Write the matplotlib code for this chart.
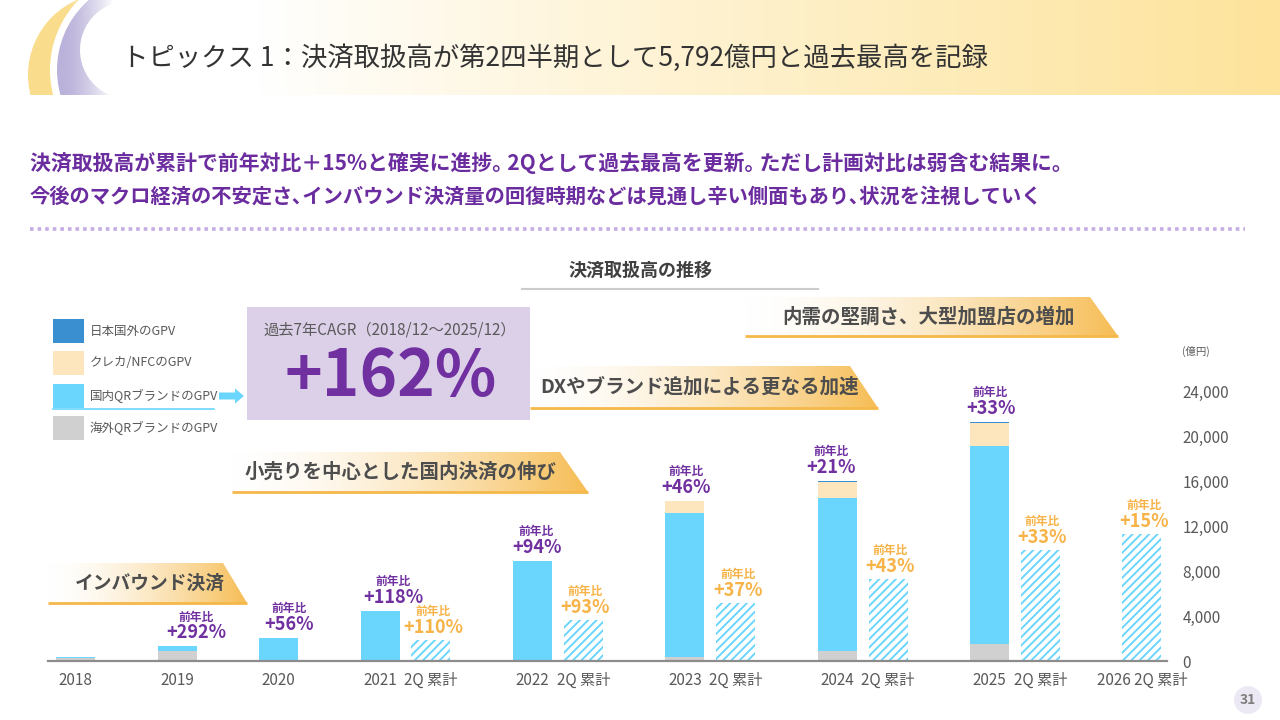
import matplotlib
matplotlib.use('Agg')
import matplotlib.pyplot as plt
import numpy as np
from matplotlib.patches import Rectangle, Circle, Polygon, FancyArrow
from matplotlib.colors import to_rgb

plt.rcParams['font.family'] = ['Noto Sans CJK JP', 'DejaVu Sans']
plt.rcParams['hatch.linewidth'] = 1.4

# ---------------- data (億円) ----------------
years = ['2018', '2019', '2020', '2021', '2022', '2023', '2024', '2025']
overseas_qr = [280, 890, 100, 0, 0, 330, 920, 1540]          # 海外QRブランドのGPV
domestic_qr = [50, 400, 1950, 4480, 8900, 12800, 13600, 17540]  # 国内QRブランドのGPV
card_nfc = [0, 0, 0, 0, 0, 1100, 1390, 2100]                # クレカ/NFCのGPV
overseas_gpv = [0, 0, 0, 0, 0, 0, 60, 90]                   # 日本国外のGPV
annual_yoy = ['', '+292%', '+56%', '+118%', '+94%', '+46%', '+21%', '+33%']

h1_years = ['2021', '2022', '2023', '2024', '2025', '2026']
h1_total = [1840, 3650, 5130, 7320, 9840, 11260]           # 2Q 累計
h1_yoy = ['+110%', '+93%', '+37%', '+43%', '+33%', '+15%']

y_ticks = [0, 4000, 8000, 12000, 16000, 20000, 24000]
legend_labels = ['日本国外のGPV', 'クレカ/NFCのGPV', '国内QRブランドのGPV', '海外QRブランドのGPV']

# ---------------- styles ----------------
C_OVER = '#3A8FD0'
C_CARD = '#FDE5BE'
C_DQR = '#6BD6FD'
C_OQR = '#D0D0D0'
PURPLE = '#7030A0'
ORANGE = '#F7B347'
GRAY = '#595959'
annual_dx = [0, 19, 10, 13, 4, 1, -6, 1]   # label nudges in pixels

fig = plt.figure(figsize=(12.8, 7.2), dpi=100)
bg = fig.add_axes([0, 0, 1, 1], zorder=0)
bg.axis('off')

# ---- header band gradient ----
xs = np.linspace(0, 1280, 640)
t = np.clip((xs - 260) / 1020, 0, 1) ** 0.9
c0 = np.array([1, 1, 1]); c1 = np.array(to_rgb('#FDE39B'))
img = c0 + (c1 - c0) * t[:, None]
bg.imshow(img[None, :, :], extent=[0, 1280, 95, 0], aspect='auto', zorder=0, interpolation='bilinear')

# ---- crescents ----
clip = Rectangle((0, 0), 113, 95, transform=bg.transData)
for (cx, cy, r, col) in [(110, 75, 82, '#F9DC8C'), (150, 70, 100, 'white'),
                         (150, 70, 93, '#BAB2DA'), (129, 50, 49, 'white')]:
    c = Circle((cx, cy), r, color=col, lw=0, zorder=1)
    bg.add_patch(c)
    c.set_clip_path(clip)
fade = np.ones((1, 100, 4))
fade[0, :, 3] = np.linspace(0, 1, 100) ** 1.5
im2 = bg.imshow(fade, extent=[62, 114, 95, 0], aspect='auto', zorder=1.5, interpolation='bilinear')

# ---- title ----
bg.text(122, 58, 'トピックス 1：決済取扱高が第2四半期として5,792億円と過去最高を記録',
        fontsize=19, color='#333333', va='center', ha='left', zorder=3)

# ---- subtitle ----
bg.text(30, 163, '決済取扱高が累計で前年対比＋15%と確実に進捗｡ 2Qとして過去最高を更新｡ ただし計画対比は弱含む結果に｡',
        fontsize=15, weight='bold', color='#6A2C9E', va='center', ha='left')
bg.text(30, 196, '今後のマクロ経済の不安定さ､インバウンド決済量の回復時期などは見通し辛い側面もあり､状況を注視していく',
        fontsize=14.6, weight='bold', color='#6A2C9E', va='center', ha='left')
bg.plot([30, 1245], [229, 229], color='#C4ADE3', lw=2.6, linestyle=(0, (1, 1.1)), solid_capstyle='butt')

# ---- chart title ----
bg.text(640, 270, '決済取扱高の推移', fontsize=13, weight='bold', color='#404040', ha='center', va='center')
bg.plot([522, 818], [289, 289], color='#CCCCCC', lw=1.5)

# ---- banners ----
def banner(x0, xr, xtip, ytop, ybot, text, tx, fs=14):
    n = 300
    u = np.linspace(0, 1, n) ** 1.6
    a = np.array(to_rgb('#FFFFFF')); b = np.array(to_rgb('#F6BD55'))
    g = a + (b - a) * u[:, None]
    im = bg.imshow(g[None, :, :], extent=[x0, xtip, ybot, ytop], aspect='auto', zorder=1,
                   interpolation='bilinear')
    poly = Polygon([(x0, ybot), (x0, ytop), (xr, ytop), (xtip, ybot)], transform=bg.transData)
    im.set_clip_path(poly)
    bg.plot([x0, xtip], [ybot, ybot], color='#F5B84A', lw=2, zorder=2, solid_capstyle='butt')
    bg.text(tx, (ytop + ybot) / 2, text, fontsize=fs, weight='bold', color='#4D4D4D',
            ha='left', va='center', zorder=3)

banner(745, 1090, 1118, 297, 336, '内需の堅調さ、大型加盟店の増加', 782)
banner(530, 850, 878, 366, 408, 'DXやブランド追加による更なる加速', 540)
banner(232, 560, 588, 452, 492, '小売りを中心とした国内決済の伸び', 245)
banner(48, 223, 247, 563, 603, 'インバウンド決済', 75, fs=13.5)

# ---- legend ----
leg_cols = [C_OVER, C_CARD, C_DQR, C_OQR]
leg_y = [319, 351, 384, 416]
for lab, col, y in zip(legend_labels, leg_cols, leg_y):
    bg.add_patch(Rectangle((53, y), 31, 24, color=col, lw=0, zorder=2))
    bg.text(90, y + 12, lab, fontsize=9, color=GRAY, ha='left', va='center', zorder=3)
bg.plot([53, 214], [408.5, 408.5], color=C_DQR, lw=1.2, zorder=2)
bg.add_patch(FancyArrow(219, 396, 16, 0, width=7, head_width=15, head_length=9,
                        length_includes_head=False, color=C_DQR, lw=0, zorder=2))

# ---- CAGR box ----
bg.add_patch(Rectangle((247, 307), 283, 113, color='#DCD0E9', lw=0, zorder=2))
bg.text(390, 330, '過去7年CAGR（2018/12～2025/12）', fontsize=11, color=GRAY, ha='center', va='center', zorder=3)
bg.text(391, 377, '+162%', fontsize=46, weight='bold', color=PURPLE, ha='center', va='center', zorder=3)

# ---- page number ----
bg.add_patch(Circle((1248, 700), 14, color='#ECE8F4', lw=0))
bg.text(1248, 700, '31', fontsize=10, weight='bold', color='#7F7F7F', ha='center', va='center')

bg.set_xlim(0, 1280)
bg.set_ylim(720, 0)

# ---------------- chart ----------------
ax = fig.add_axes([48 / 1280, 59 / 720, 1119 / 1280, 270 / 720], zorder=2)
ax.patch.set_alpha(0)

def slot(k):
    return k if k <= 3 else 3 + 1.5 * (k - 3)

xa = np.array([slot(k) for k in range(len(years))])
xh = np.array([slot(years.index(y)) + 0.5 if y in years else slot(int(y) - int(years[0]))
               for y in h1_years])
bw = 0.384

bottom = np.zeros(len(years))
for vals, col in [(overseas_qr, C_OQR), (domestic_qr, C_DQR), (card_nfc, C_CARD), (overseas_gpv, C_OVER)]:
    v = np.array(vals, dtype=float)
    ax.bar(xa, v, width=bw, bottom=bottom, color=col, linewidth=0, zorder=2)
    bottom += v

ax.bar(xh, h1_total, width=bw, color='white', edgecolor=C_DQR, hatch='////', linewidth=0, zorder=2)

for x, top, lab, dx in zip(xa, bottom, annual_yoy, annual_dx):
    if not lab:
        continue
    ax.annotate(lab, (x, top), xytext=(dx, 8), textcoords='offset pixels', ha='center', va='baseline',
                fontsize=13, weight='bold', color=PURPLE, annotation_clip=False)
    ax.annotate('前年比', (x, top), xytext=(dx, 26), textcoords='offset pixels', ha='center', va='baseline',
                fontsize=8.5, weight='bold', color=PURPLE, annotation_clip=False)
for x, top, lab in zip(xh, h1_total, h1_yoy):
    ax.annotate(lab, (x, top), xytext=(2, 7), textcoords='offset pixels', ha='center', va='baseline',
                fontsize=13, weight='bold', color=ORANGE, annotation_clip=False)
    ax.annotate('前年比', (x, top), xytext=(2, 25), textcoords='offset pixels', ha='center', va='baseline',
                fontsize=8.5, weight='bold', color=ORANGE, annotation_clip=False)

ticks = list(xa) + list(xh)
labels = list(years) + [('2026 2Q 累計' if y not in years else '2Q 累計') for y in h1_years]
ax.set_xticks(ticks)
ax.set_xticklabels(labels)
ax.tick_params(axis='x', length=0, pad=8, labelsize=11, labelcolor=GRAY)

ax.yaxis.tick_right()
ax.set_yticks(y_ticks)
ax.set_yticklabels([f'{v:,}' for v in y_ticks])
ax.tick_params(axis='y', length=0, pad=11, labelsize=11, labelcolor=GRAY)
ax.text(1.013, 1.145, '(億円)', transform=ax.transAxes, fontsize=7.5, color=GRAY, ha='left', va='center')

ax.set_xlim(-0.271, 10.747)
ax.set_ylim(0, 24000)
for s in ['top', 'left', 'right']:
    ax.spines[s].set_visible(False)
ax.spines['bottom'].set_color('#8C8C8C')
ax.spines['bottom'].set_linewidth(1.6)

fig.savefig('out.png', dpi=100)
